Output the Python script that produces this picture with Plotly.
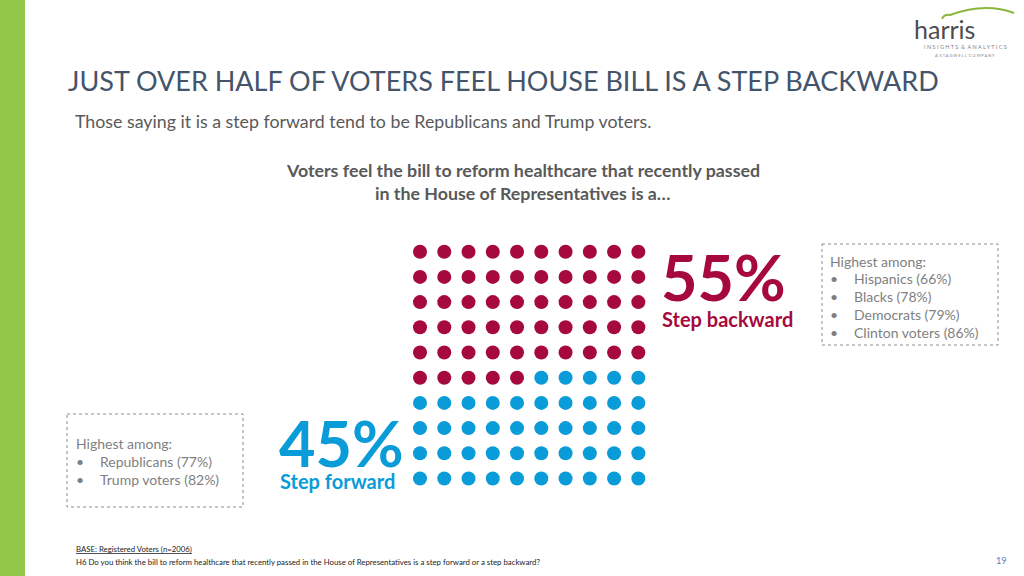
import plotly.graph_objects as go

# ---- data ----
categories = ["Step backward", "Step forward"]
percents = [55, 45]
colors = ["#A6093D", "#0A9CD8"]
highest_backward = ["Hispanics (66%)", "Blacks (78%)", "Democrats (79%)", "Clinton voters (86%)"]
highest_forward = ["Republicans (77%)", "Trump voters (82%)"]
grid_cols = 10
grid_rows = 10

W, H = 1024, 576
FONT = "Lato"

# build dot grid from the percentages
xs, ys, cs = [], [], []
idx = 0
for cat_i, p in enumerate(percents):
    for _ in range(p):
        xs.append(idx % grid_cols)
        ys.append(idx // grid_cols)
        cs.append(colors[cat_i])
        idx += 1

fig = go.Figure()
fig.add_trace(go.Scatter(x=xs, y=ys, mode="markers", xaxis="x2", yaxis="y2",
                         marker=dict(size=14, color=cs, line=dict(width=0)),
                         hoverinfo="skip", showlegend=False))
fig.add_trace(go.Scatter(x=[0], y=[0], mode="markers", marker=dict(opacity=0),
                         hoverinfo="skip", showlegend=False))

cw, rh = 24.26, 25.2
x0 = 420 - cw / 2
y0 = 251.7 - rh / 2
fig.update_layout(
    width=W, height=H, margin=dict(l=0, r=0, t=0, b=0),
    paper_bgcolor="white", plot_bgcolor="white",
    xaxis=dict(range=[0, W], visible=False, domain=[0, 1], fixedrange=True),
    yaxis=dict(range=[H, 0], visible=False, domain=[0, 1], fixedrange=True),
    xaxis2=dict(range=[-0.5, grid_cols - 0.5], visible=False, anchor="y2", fixedrange=True,
                domain=[x0 / W, (x0 + cw * grid_cols) / W]),
    yaxis2=dict(range=[grid_rows - 0.5, -0.5], visible=False, anchor="x2", fixedrange=True,
                domain=[1 - (y0 + rh * grid_rows) / H, 1 - y0 / H]),
)

shapes = []
shapes.append(dict(type="rect", xref="x", yref="y", x0=0, x1=25, y0=0, y1=H,
                   fillcolor="#92C84A", line=dict(width=0), layer="below"))
shapes.append(dict(type="rect", xref="x", yref="y", x0=822, x1=998, y0=244, y1=345,
                   line=dict(color="#8C8C8C", width=1, dash="dot")))
shapes.append(dict(type="rect", xref="x", yref="y", x0=67, x1=243, y0=414, y1=507,
                   line=dict(color="#8C8C8C", width=1, dash="dot")))
shapes.append(dict(type="path", xref="x", yref="y",
                   path="M 942,19 Q 944,14 950,15 Q 985,2 1014,13",
                   line=dict(color="#8DB63C", width=2)))
fig.update_layout(shapes=shapes)

ann = []
def text(x, y, s, size, color, anchor="left", bold=False, family=FONT, yanchor="middle"):
    if bold:
        s = "<b>" + s + "</b>"
    ann.append(dict(x=x, y=y, xref="x", yref="y", text=s, showarrow=False,
                    xanchor=anchor, yanchor=yanchor,
                    font=dict(size=size, color=color, family=family)))

text(66, 80, "JUST OVER HALF OF VOTERS FEEL HOUSE BILL IS A STEP BACKWARD", 27, "#44546A")
text(73, 121, "Those saying it is a step forward tend to be Republicans and Trump voters.", 17.8, "#595959")
text(523, 170, "Voters feel the bill to reform healthcare that recently passed", 17.8, "#595959", "center", True)
text(523, 193, "in the House of Representatives is a…", 17.8, "#595959", "center", True)

text(659, 276, f"{percents[0]}%", 63, colors[0], bold=True)
text(660, 319, categories[0], 20, colors[0], bold=True)
text(277, 442, f"{percents[1]}%", 63, colors[1], bold=True)
text(278, 481, categories[1], 20, colors[1], bold=True)

gray = "#7F7F7F"
fs = 14
text(828, 261, "Highest among:", fs, gray)
for i, s in enumerate(highest_backward):
    yy = 278 + i * 18
    text(828, yy, "•", fs, gray)
    text(852, yy, s, fs, gray)
text(74, 443, "Highest among:", fs, gray)
for i, s in enumerate(highest_forward):
    yy = 461 + i * 18
    text(74, yy, "•", fs, gray)
    text(98, yy, s, fs, gray)

text(74, 549, "<u>BASE: Registered Voters (n=2006)</u>", 7.8, "#222222")
text(74, 562, "H6 Do you think the bill to reform healthcare that recently passed in the House of Representatives is a step forward or a step backward?", 7.8, "#222222")
text(1001, 560, "19", 9, "#4F81BD", "center")

# logo text
text(944, 29, "harris", 25, "#4D4D4D", "center")
text(965, 47, "I N S I G H T S &nbsp;&amp;&nbsp; A N A L Y T I C S", 5.5, "#7F7F7F", "center")
text(965, 55, "A &nbsp;S T A G W E L L &nbsp;C O M P A N Y", 4, "#7F7F7F", "center")

fig.update_layout(annotations=ann)
fig.write_html("out.html", config={"displayModeBar": False, "staticPlot": True},
               post_script="document.body.style.margin='0';document.body.style.padding='0';")
